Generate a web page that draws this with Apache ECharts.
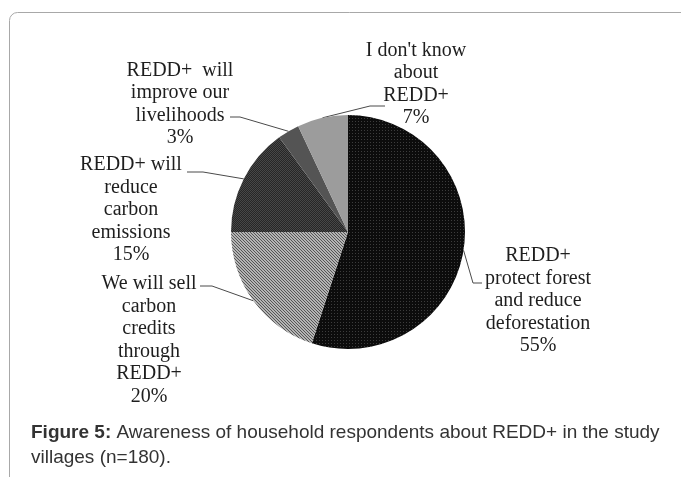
<!DOCTYPE html>
<html><head><meta charset="utf-8">
<script src="https://cdn.jsdelivr.net/npm/echarts@6/dist/echarts.min.js"></script>
<style>html,body{margin:0;padding:0;background:#fff}#c{width:681px;height:477px}</style>
</head><body><div id="c"></div>
<script>
// ---- data ----
const categories = [
  'REDD+\nprotect forest\nand reduce\ndeforestation',
  'We will sell\ncarbon\ncredits\nthrough\nREDD+',
  'REDD+ will\nreduce\ncarbon\nemissions',
  'REDD+  will\nimprove our\nlivelihoods',
  "I don't know\nabout\nREDD+"
];
const percentages = [55, 20, 15, 3, 7];
const captionBold = 'Figure 5:';
const captionLine1 = ' Awareness of household respondents about REDD+ in the study';
const captionLine2 = 'villages (n=180).';

// ---- patterns ----
function pattern(w, h, bg, fg, pts) {
  const c = document.createElement('canvas');
  c.width = w; c.height = h;
  const g = c.getContext('2d');
  g.fillStyle = bg; g.fillRect(0, 0, w, h);
  g.fillStyle = fg;
  pts.forEach(p => g.fillRect(p[0], p[1], 1, 1));
  return { image: c, repeat: 'repeat' };
}
const fills = [
  pattern(3, 3, '#0c0c0c', '#3c3c3c', [[1, 1]]),
  pattern(3, 3, '#b4b4b4', '#555555', [[0, 0], [1, 1], [2, 2]]),
  pattern(2, 2, '#262626', '#474747', [[0, 0], [1, 1]]),
  '#545454',
  '#9c9c9c'
];

// ---- label layout ----
const spots = [
  { x: 538, y: 301, line: [[473, 283], [482, 283]] },
  { x: 149, y: 340, line: [[212, 286], [200, 286]] },
  { x: 131, y: 210, line: [[203, 172], [187, 172]] },
  { x: 180, y: 104, line: [[240, 117], [230, 117]] },
  { x: 416, y: 84,  line: [[370, 106], [385, 106]] }
];

const chart = echarts.init(document.getElementById('c'), null, { renderer: 'canvas' });
chart.setOption({
  animation: false,
  graphic: [
    { type: 'rect', shape: { x: 9.5, y: 12.5, width: 720, height: 520, r: 8 },
      style: { fill: 'none', stroke: '#a8a8a8', lineWidth: 1 }, z: 0 },
    { type: 'text', left: 31, top: 423,
      style: {
        text: '{b|' + captionBold + '}{n|' + captionLine1 + '}\n{n|' + captionLine2 + '}',
        rich: {
          b: { fontFamily: 'Liberation Sans, Arial', fontSize: 19, fontWeight: 'bold', fill: '#333', lineHeight: 25 },
          n: { fontFamily: 'Liberation Sans, Arial', fontSize: 19, fill: '#333', lineHeight: 25 }
        }
      } }
  ],
  series: [{
    type: 'pie',
    center: [348, 232],
    radius: 117,
    startAngle: 90,
    clockwise: true,
    avoidLabelOverlap: false,
    data: categories.map((n, i) => ({ name: n, value: percentages[i], itemStyle: { color: fills[i] } })),
    itemStyle: { borderWidth: 0 },
    label: {
      show: true,
      position: 'outside',
      formatter: p => p.name + '\n' + p.value + '%',
      fontFamily: 'Liberation Serif, Times New Roman, serif',
      fontSize: 20,
      lineHeight: 22.5,
      color: '#1e1e1e',
      align: 'center'
    },
    labelLine: { show: true, lineStyle: { color: '#4a4a4a', width: 1 } },
    labelLayout: function (params) {
      const s = spots[params.dataIndex];
      const start = params.labelLinePoints ? params.labelLinePoints[0] : s.line[0];
      return {
        x: s.x, y: s.y, align: 'center', verticalAlign: 'middle',
        labelLinePoints: [start, s.line[0], s.line[1]]
      };
    },
    emphasis: { disabled: true }
  }]
});
</script></body></html>
